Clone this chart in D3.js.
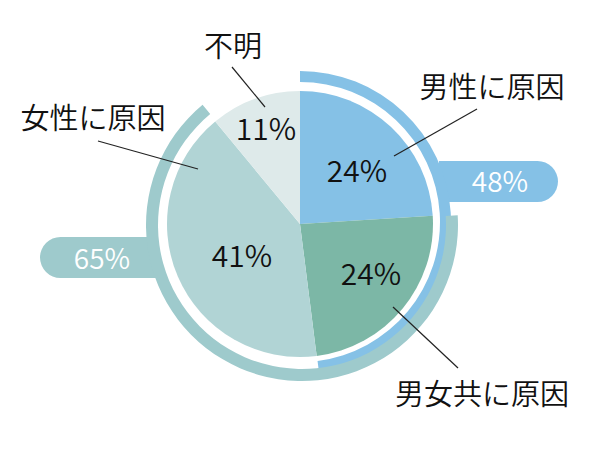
<!DOCTYPE html>
<html>
<head>
<meta charset="utf-8">
<script src="https://cdn.jsdelivr.net/npm/d3@7"></script>
<style>
  body { margin: 0; background: #fff; }
  text { font-family: "Noto Sans CJK JP", "Noto Sans", sans-serif; font-weight: 350; }
</style>
</head>
<body>
<svg id="pie"></svg>
<script>
// data
const categories = ["男性に原因", "男女共に原因", "女性に原因", "不明"];
const values = [24, 24, 41, 11];
const colors = ["#85c1e6", "#7cb7a6", "#b1d4d5", "#deeaea"];

// outer rings: sums of neighbouring slices
const ringLabels = ["48%", "65%"];
const ringSlices = [[0, 1], [1, 2]];
const ringColors = ["#85c1e6", "#9ecacc"];

// label layout (positions only)
const pctPos = [[357, 182], [371, 285], [242, 267], [266, 140]];
const namePos = [[492, 98], [482, 405], [93, 129], [233, 57]];
const leaders = [
  [[394, 156], [477, 109]],
  [[393, 307], [458, 368]],
  [[198, 169], [98, 141]],
  [[265, 107], [232, 67]]
];

const width = 600, height = 450;
const cx = 300, cy = 224, r = 133;

const svg = d3.select("#pie")
  .attr("width", width)
  .attr("height", height);

const pie = d3.pie().sort(null).value(d => d);
const arcs = pie(values);

// rings (ring centres nudged a little like the original)
const ringGeom = [
  { x: cx, y: cy - 2, inner: 140, outer: 151 },
  { x: cx + 2, y: cy + 1, inner: 144, outer: 156 }
];

// pills behind the rings
svg.append("path")
   .attr("d", () => {
     const x0 = 439, x1 = 558, y0 = 161, y1 = 202, rr = (y1 - y0) / 2;
     return `M${x0},${y0}H${x1 - rr}A${rr},${rr} 0 0 1 ${x1 - rr},${y1}H${x0}Z`;
   })
   .attr("fill", ringColors[0]);

svg.append("path")
   .attr("d", () => {
     const x0 = 40, x1 = 158, y0 = 237, y1 = 278, rr = (y1 - y0) / 2;
     return `M${x1},${y0}H${x0 + rr}A${rr},${rr} 0 0 0 ${x0 + rr},${y1}H${x1}Z`;
   })
   .attr("fill", ringColors[1]);

ringSlices.forEach((s, i) => {
  const g = ringGeom[i];
  const a = d3.arc().innerRadius(g.inner).outerRadius(g.outer);
  svg.append("path")
     .attr("transform", `translate(${g.x},${g.y})`)
     .attr("d", a({ startAngle: arcs[s[0]].startAngle, endAngle: arcs[s[1]].endAngle }))
     .attr("fill", ringColors[i]);
});

// ring labels
svg.append("text")
   .attr("x", 500).attr("y", 192)
   .attr("text-anchor", "middle")
   .attr("font-size", 28)
   .attr("fill", "#fff")
   .text(ringLabels[0]);

svg.append("text")
   .attr("x", 102).attr("y", 269)
   .attr("text-anchor", "middle")
   .attr("font-size", 28)
   .attr("fill", "#fff")
   .text(ringLabels[1]);

// pie slices
const arc = d3.arc().innerRadius(0).outerRadius(r);
svg.append("g")
   .attr("transform", `translate(${cx},${cy})`)
   .selectAll("path")
   .data(arcs)
   .join("path")
   .attr("d", arc)
   .attr("fill", (d, i) => colors[i]);

// leader lines
svg.append("g")
   .selectAll("line")
   .data(leaders)
   .join("line")
   .attr("x1", d => d[0][0]).attr("y1", d => d[0][1])
   .attr("x2", d => d[1][0]).attr("y2", d => d[1][1])
   .attr("stroke", "#222")
   .attr("stroke-width", 1.2);

// percentages
svg.append("g")
   .selectAll("text")
   .data(arcs)
   .join("text")
   .attr("x", (d, i) => pctPos[i][0])
   .attr("y", (d, i) => pctPos[i][1])
   .attr("text-anchor", "middle")
   .attr("font-size", 30)
   .attr("fill", "#111")
   .text(d => d.data + "%");

// category names
svg.append("g")
   .selectAll("text")
   .data(categories)
   .join("text")
   .attr("x", (d, i) => namePos[i][0])
   .attr("y", (d, i) => namePos[i][1])
   .attr("text-anchor", "middle")
   .attr("font-size", 29)
   .attr("fill", "#111")
   .text(d => d);
</script>
</body>
</html>
